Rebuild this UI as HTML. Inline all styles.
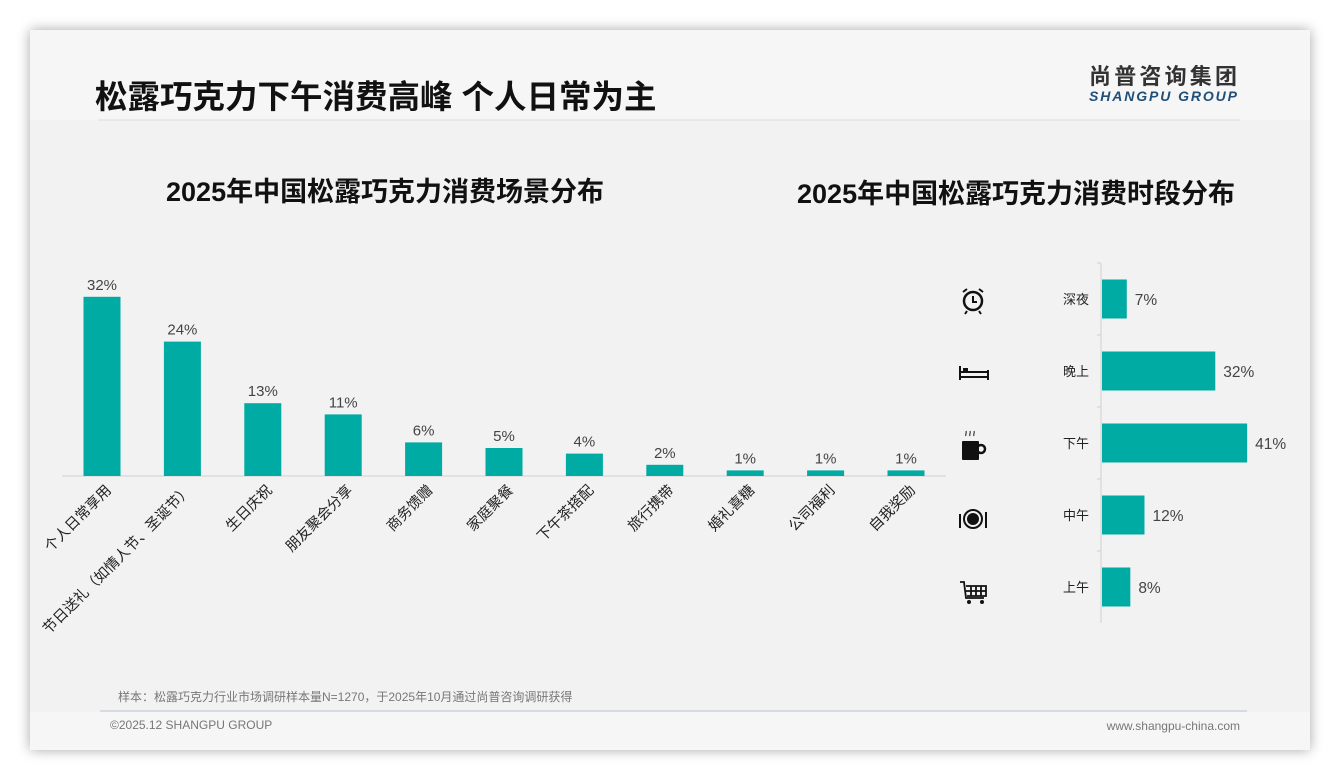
<!DOCTYPE html>
<html><head><meta charset="utf-8">
<style>
body{margin:0;width:1340px;height:780px;background:#fff;overflow:hidden;font-family:"Liberation Sans","Noto Sans CJK SC",sans-serif;}
#card{position:absolute;left:30px;top:30px;width:1280px;height:720px;background:#f2f2f2;box-shadow:0 0 12px rgba(0,0,0,0.35);}
svg{position:absolute;left:0;top:0;}
</style></head><body>
<div id="card"></div>
<svg width="1340" height="780" id="chart" font-family="Liberation Sans, Noto Sans CJK SC, sans-serif">
<rect x="30" y="30" width="1280" height="90" fill="#f6f6f6"/>
<rect x="30" y="712" width="1280" height="38" fill="#f6f6f6"/>
<text x="95" y="108" font-size="32.5" font-weight="bold" fill="#111">松露巧克力下午消费高峰 个人日常为主</text>
<line x1="98" y1="120" x2="1240" y2="120" stroke="#dcdcdc"/>
<text x="1237" y="84" font-size="22" font-weight="bold" fill="#333" text-anchor="end" textLength="148">尚普咨询集团</text>
<text x="1237" y="101" font-size="14" font-weight="bold" font-style="italic" fill="#1f4e79" text-anchor="end" textLength="148">SHANGPU GROUP</text>
<text x="385" y="201" font-size="27" font-weight="bold" fill="#111" text-anchor="middle" textLength="438">2025年中国松露巧克力消费场景分布</text>
<text x="1016" y="203" font-size="27" font-weight="bold" fill="#111" text-anchor="middle" textLength="438">2025年中国松露巧克力消费时段分布</text>
<line x1="62" y1="476" x2="946" y2="476" stroke="#d0d0d0"/>
<line x1="1101" y1="263" x2="1101" y2="623" stroke="#d0d0d0"/>
<g id="left"></g>
<g id="right"></g>
<g fill="#111" stroke="#111">
<g><circle cx="973" cy="301" r="9" fill="none" stroke-width="2.5"/><path d="M973 296v6h4" fill="none" stroke-width="2"/><path d="M963 292l4-3M983 292l-4-3M967 311l-2 3M979 311l2 3" stroke-width="2"/></g>
<g><path d="M960 366v14M988 370v10M960 377h28M960 372h28" stroke-width="2" fill="none"/><rect x="963" y="368" width="5" height="4" stroke="none"/></g>
<g><rect x="962" y="441" width="17" height="19" rx="1" stroke="none"/><circle cx="981" cy="449" r="4" fill="none" stroke-width="2.5"/><path d="M966 436c-1-2 1-3 0-5M970 436c-1-2 1-3 0-5M974 436c-1-2 1-3 0-5" fill="none" stroke-width="1"/></g>
<g><circle cx="973" cy="519" r="9" fill="none" stroke-width="2"/><circle cx="973" cy="519" r="6" stroke="none"/><path d="M960 514v14M986 512v16" stroke-width="2"/></g>
<g><path d="M960 582h4l2 16h18M966 586h20v10h-19M971 586v10M976 586v10M981 586v10M966 591h20" fill="none" stroke-width="1.8"/><circle cx="969" cy="602" r="2" stroke="none"/><circle cx="982" cy="602" r="2" stroke="none"/></g>
</g>
<text x="118" y="701" font-size="12" fill="#777">样本：松露巧克力行业市场调研样本量N=1270，于2025年10月通过尚普咨询调研获得</text>
<line x1="100" y1="711" x2="1247" y2="711" stroke="#b8c4d0"/>
<text x="110" y="729" font-size="12" fill="#777">©2025.12 SHANGPU GROUP</text>
<text x="1240" y="730" font-size="12" fill="#777" text-anchor="end">www.shangpu-china.com</text>
</svg>
<script>
const sceneCats=["个人日常享用","节日送礼（如情人节、圣诞节）","生日庆祝","朋友聚会分享","商务馈赠","家庭聚餐","下午茶搭配","旅行携带","婚礼喜糖","公司福利","自我奖励"];
const sceneVals=[32,24,13,11,6,5,4,2,1,1,1];
const timeCats=["深夜","晚上","下午","中午","上午"];
const timeVals=[7,32,41,12,8];
const NS="http://www.w3.org/2000/svg";
function mk(t,a,p){const e=document.createElementNS(NS,t);for(const k in a)e.setAttribute(k,a[k]);p.appendChild(e);return e;}
const L=document.getElementById('left');
const x0=102,step=80.4,base=476,ky=5.6;
const xs=i=>x0+i*step, ys=v=>base-v*ky;
sceneVals.forEach((v,i)=>{
 const r=mk('rect',{x:xs(i)-18.5,y:ys(v),width:37,height:base-ys(v),fill:'#00aba3'},L);
 
 
 const t=mk('text',{x:xs(i),y:ys(v)-7,'font-size':15,fill:'#444','text-anchor':'middle'},L);t.textContent=v+'%';
 
 
 const c=mk('text',{x:0,y:0,'font-size':14.5,fill:'#222','text-anchor':'end',transform:`translate(${xs(i)+10},${base+15}) rotate(-45)`},L);c.textContent=sceneCats[i];
 
 
});
const R=document.getElementById('right');
const ax=1101,kx=3.54,y0=299,ystep=72;
timeVals.forEach((v,i)=>{
 const cy=y0+i*ystep;
 const r=mk('rect',{x:ax+1,y:cy-19.5,width:v*kx,height:39,fill:'#00aba3'},R);
 
 
 const t=mk('text',{x:ax+v*kx+9,y:cy+6,'font-size':15.5,fill:'#444'},R);t.textContent=v+'%';
 
 
 const c=mk('text',{x:ax-12,y:cy+5,'font-size':13,fill:'#222','text-anchor':'end'},R);c.textContent=timeCats[i];
 
 
 const tk=mk('line',{x1:ax-4,x2:ax,y1:cy-36,y2:cy-36,stroke:'#d0d0d0'},R);
 
 
});
</script>
</body></html>
